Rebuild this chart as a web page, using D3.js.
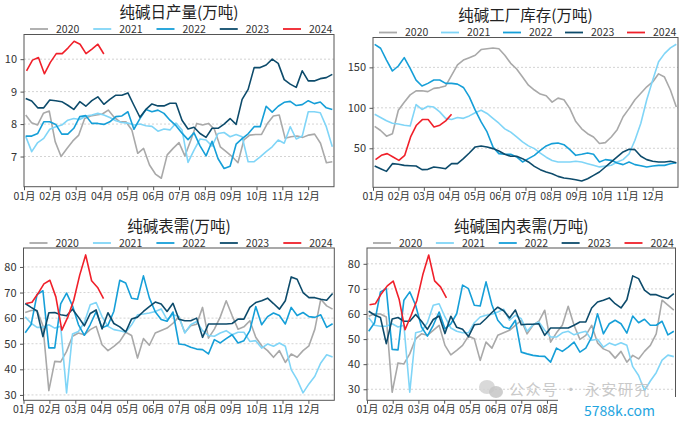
<!DOCTYPE html>
<html><head><meta charset="utf-8">
<script src="https://cdn.jsdelivr.net/npm/d3@7/dist/d3.min.js"></script>
<style>
body{margin:0;background:#fff}
svg{display:block}
text{font-family:"Noto Sans CJK SC","Noto Sans",sans-serif}
</style>
</head><body>
<svg id="chart" width="683" height="422"></svg>
<script>
// ---------- shared ----------
const years = ["2020", "2021", "2022", "2023", "2024"];
const yearColors = ["#a9a9a9", "#80d5f7", "#169fd8", "#0d4b6b", "#f0202a"];
const monthLabels = ["01月","02月","03月","04月","05月","06月","07月","08月","09月","10月","11月","12月"];
const titles = ["纯碱日产量(万吨)", "纯碱工厂库存(万吨)", "纯碱表需(万吨)", "纯碱国内表需(万吨)"];

// ---------- panel 1: 纯碱日产量 ----------
const prod2020 = [8.28,8.04,7.97,8.33,8.40,7.46,7.0,7.25,7.48,7.66,8.17,8.25,8.28,8.31,8.43,8.21,8.07,8.07,7.82,7.10,7.25,6.74,6.46,6.33,7.05,7.25,7.43,7.02,7.5,8.02,7.97,8.02,7.84,7.30,7.15,7.0,6.81,7.51,7.66,7.68,7.68,8.02,8.25,8.28,7.56,7.61,7.63,7.59,7.66,7.69,7.41,6.81,6.84];
const prod2021 = [7.62,7.15,7.43,7.56,7.84,7.92,7.97,8.12,8.17,8.14,8.25,8.28,8.33,8.28,8.2,8.1,8.05,8.03,7.97,8.0,7.95,7.93,7.78,7.85,7.82,8.03,7.82,6.82,7.2,7.54,7.51,7.32,7.71,7.74,7.61,7.68,7.61,6.84,6.84,6.99,7.15,7.30,7.51,7.41,7.92,7.54,7.63,8.38,8.38,8.35,7.92,7.30];
const prod2022 = [7.63,7.63,7.71,8.07,8.07,7.99,7.69,7.69,7.87,8.23,8.26,8.02,8.02,7.99,8.07,8.23,8.25,8.38,7.84,8.17,8.45,8.38,8.43,8.33,8.12,7.95,7.72,7.52,7.73,7.33,7.02,7.47,6.93,6.63,6.70,7.38,7.55,7.70,7.92,7.92,8.55,8.37,8.55,8.67,8.70,8.57,8.60,8.72,8.63,8.68,8.50,8.45];
const prod2023 = [8.79,8.71,8.50,8.50,8.74,8.72,8.69,8.58,8.45,8.69,8.55,8.72,8.84,8.61,8.76,8.89,8.89,8.96,8.58,8.21,8.45,8.62,8.56,8.56,8.64,8.64,8.12,7.85,7.9,7.71,7.59,7.87,7.87,8.0,8.17,7.99,8.76,9.07,9.74,9.74,9.82,10.0,9.87,9.37,9.23,9.13,9.64,9.33,9.33,9.4,9.43,9.53];
const prod2024 = [9.64,9.97,10.05,9.55,9.90,10.17,10.17,10.35,10.55,10.46,10.17,10.31,10.46,10.16];
const prodTicks = [7, 8, 9, 10];

// ---------- panel 2: 纯碱工厂库存 ----------
const inv2020 = [77,72,65,68,97,107,116,121,121,120,124,125,127,140,153,159,162,165,172,173,174,173,165,155,148,138,128,122,117,115,107,112,110,99,83,74,68,64,56,57,64,73,89,99,110,118,126,132,142,138,122,101];
const inv2021 = [92,88,84,81,80,78.5,77.5,104,98,102,101,95,87,85.5,88,87,90,94,97,93,87,81,74,70,64,58,53,49.6,44,39,35,33,33,33,34,33,31,29,27,28,29,33,36,43,60,81,110,134,157,167,174,178.5];
const inv2022 = [178.5,173.6,159,145.5,151.7,162,148.8,134.3,126.9,130.2,134.3,134.3,130.2,130.2,129.3,125.2,113.6,97.1,82.6,70.2,51.7,43.4,42.6,42.6,39.3,33.1,37.2,41.3,47.5,52.9,55.8,56.6,54.5,48.3,41.3,42.6,44.2,42.6,33.1,36,35.1,31.8,29.8,33.1,29.8,28.5,26.9,28.1,28.9,28.9,31,32.2];
const inv2023 = [28.1,24.8,21.5,31,30.2,28.9,28.5,28.1,23.6,24,26.9,26,24.8,31,31,37.2,44.2,51.7,52.9,51.7,49.6,46.7,42.6,40.1,40.1,37.2,33.1,27.7,23.6,20.7,18.6,15.3,13.2,12.4,11.2,9.5,12.4,16.5,20.7,26.9,33.1,39.3,45.5,48.8,48.3,40.1,36,33.9,33.1,33.1,33.9,32.2];
const inv2024 = [36,41.3,43.4,39.3,35.1,41.3,64,78.5,85.5,85.5,76.4,78.5,83.9,92.1];
const invTicks = [50, 100, 150];

// ---------- panel 3: 纯碱表需 ----------
const dem2020 = [62.2,63.0,63.0,57.0,31.7,43.1,42.9,47.0,52.9,54.2,53.5,55.5,56.8,49.6,47.3,49.0,50.9,54.5,53.2,44.4,52.0,49.4,54.2,55.2,56.1,58.0,60.5,54.4,57.0,57.6,64.2,52.2,55.7,60.5,66.8,61.0,55.7,56.6,59.0,52.5,49.2,47.3,44.7,47.3,42.7,46.0,44.7,47.3,49.2,55.7,67.4,64.8,63.5];
const dem2021 = [60.5,58.0,56.4,56.4,57.4,56.1,56.8,30.8,53.8,54.8,58.3,65.2,66.1,60.6,56.8,55.5,55.1,54.5,57.4,61.3,61.6,62.0,62.6,63.6,59.4,61.3,60.6,54.2,57.4,58.7,55.1,53.2,52.9,54.2,55.1,53.5,54.5,54.5,50.9,51.2,48.3,49.9,49.0,50.3,49.0,39.9,36.0,30.8,34.3,37.3,42.5,45.7,44.8];
const dem2022 = [54.3,57.5,69.2,70.7,48.4,48.4,65.6,69.8,64.8,57.5,53.3,57.5,62.5,56.2,57.2,62.7,74.8,73.7,67.8,67.4,76.5,67.9,62.5,59.5,58.8,62.4,49.9,49.6,48.6,47.9,47.7,46.0,51.6,50.3,52.0,53.5,50.3,51.2,55.1,64.5,57.4,60.6,62.0,61.0,57.7,64.2,61.0,62.2,60.6,60.3,61.3,56.4,57.8];
const dem2023 = [65.7,64.2,62.8,52.8,62.1,62.2,61.3,60.9,63.5,60.4,57.0,61.8,63.2,55.8,62.1,57.9,56.6,54.6,59.7,60.4,62.6,64.5,66.3,65.5,62.6,65.8,59.6,59.0,59.0,60.0,52.5,57.7,57.7,57.7,57.7,57.9,59.6,59.6,64.2,66.1,66.8,67.8,65.7,63.5,66.8,76.1,75.2,70.0,68.0,68.0,67.4,67.0,69.6];
const dem2024 = [65.7,66.2,69.6,73.4,74.8,68.3,55.3,60.4,67.0,76.8,84.7,74.6,72.0,67.6];
const demTicks = [30, 40, 50, 60, 70, 80];

// ---------- panel 4: 纯碱国内表需 ----------
const dom2020 = [59.1,60.1,60.0,58.8,28.8,40.5,40.1,44.1,50.1,52.1,51.5,53.5,55.5,47.5,43.7,45.5,47.5,51.2,50.1,41.5,48.8,46.4,51.5,52.5,53.5,55.5,57.5,52.1,55.5,57.1,61.5,48.8,52.5,55.5,63.1,55.5,49.9,51.5,55.5,48.5,46.1,45.1,42.4,45.1,40.8,43.5,42.1,45.1,47.5,52.1,65.5,63.5,61.5];
const dom2021 = [58.5,55.5,55.1,55.1,56.1,54.8,55.5,28.8,52.5,53.1,56.5,63.5,64.1,58.8,54.4,53.1,52.5,52.5,56.5,58.8,59.5,59.9,60.8,61.9,57.5,59.5,58.1,53.1,55.7,56.8,53.5,50.8,50.8,52.5,53.1,51.7,52.5,53.1,49.5,49.9,46.8,48.4,47.5,48.5,47.5,39.0,35.5,29.5,33.3,36.6,41.6,43.6,43.0];
const dom2022 = [53.1,56.5,68.8,70.1,45.9,45.7,65.5,68.8,63.5,54.8,51.2,55.5,60.8,54.1,56.1,60.1,71.5,70.1,63.5,63.2,72.8,63.7,57.5,54.8,54.1,57.5,44.8,44.1,43.5,43.2,43.1,40.8,46.4,45.1,46.8,48.8,44.8,46.4,50.8,60.1,52.1,56.1,57.5,56.1,52.4,59.2,56.5,57.9,55.5,55.5,57.1,51.7,53.1];
const dom2023 = [61.1,59.6,58.6,48.2,58.0,58.6,57.1,57.1,59.8,57.1,53.9,57.8,59.2,52.2,59.1,54.7,53.9,51.0,55.7,56.0,58.2,60.6,62.7,61.3,58.4,61.6,55.7,55.9,55.9,56.1,51.5,54.4,54.4,54.4,54.4,55.5,56.8,56.8,62.4,64.8,65.5,66.4,64.1,62.4,65.7,75.2,74.1,69.5,67.7,67.7,66.8,66.2,68.1];
const dom2024 = [63.7,64.1,68.1,71.2,73.1,65.9,53.7,59.3,65.4,75.6,83.5,73.2,70.8,66.4];
const domTicks = [30, 40, 50, 60, 70, 80];

// ---------- layout ----------
// shownMonths: month labels visible (panel 4's last four are covered by the source's watermark box)
const panels = [
  {title: titles[0], series: [prod2020, prod2021, prod2022, prod2023, prod2024], ticks: prodTicks,
   yDomain: [6.07, 10.76], box: {l: 24, r: 334, t: 34.5, b: 186.7}, titleY: 18, legendY: 29, shownMonths: 12},
  {title: titles[1], series: [inv2020, inv2021, inv2022, inv2023, inv2024], ticks: invTicks,
   yDomain: [1.8, 186.9], box: {l: 373, r: 678, t: 37.5, b: 187.3}, titleY: 21, legendY: 32.5, shownMonths: 12},
  {title: titles[2], series: [dem2020, dem2021, dem2022, dem2023, dem2024], ticks: demTicks,
   yDomain: [27.9, 87.4], box: {l: 23.5, r: 334.3, t: 248, b: 400.3}, titleY: 231.5, legendY: 243, shownMonths: 12},
  {title: titles[3], series: [dom2020, dom2021, dom2022, dom2023, dom2024], ticks: domTicks,
   yDomain: [25.6, 86.3], box: {l: 367, r: 675.5, t: 248, b: 400.3}, titleY: 231.5, legendY: 243, shownMonths: 8}
];

const svg = d3.select("#chart");
const frameColor = "#555";
const textColor = "#333";
const fontFam = '"Noto Sans CJK SC","Noto Sans",sans-serif';

// day-of-year position of point i in a series of length n
function dayOf(i, n) {
  return n >= 50 ? 2 + i * 361 / (n - 1) : 3 + 7 * i;
}

panels.forEach((p, pi) => {
  const {l, r, t, b} = p.box;
  const x = d3.scaleLinear().domain([0, 365]).range([l, r]);
  const y = d3.scaleLinear().domain(p.yDomain).range([b, t]);
  const g = svg.append("g");

  const clipId = "clip" + pi;
  svg.append("clipPath").attr("id", clipId)
    .append("rect").attr("x", l).attr("y", t).attr("width", r - l).attr("height", b - t);

  // grid
  g.append("g").selectAll("line").data(p.ticks).join("line")
    .attr("x1", l).attr("x2", r)
    .attr("y1", d => y(d)).attr("y2", d => y(d))
    .attr("stroke", "#c8c8c8").attr("stroke-width", 0.8).attr("stroke-dasharray", "2,2");

  // lines
  const lineGen = (n) => d3.line().x((d, i) => x(dayOf(i, n))).y(d => y(d));
  const lg = g.append("g").attr("clip-path", `url(#${clipId})`);
  p.series.forEach((s, si) => {
    lg.append("path").datum(s)
      .attr("d", lineGen(s.length))
      .attr("fill", "none")
      .attr("stroke", yearColors[si])
      .attr("stroke-width", 1.6)
      .attr("stroke-linejoin", "round");
  });

  // frame
  g.append("rect").attr("x", l).attr("y", t).attr("width", r - l).attr("height", b - t)
    .attr("fill", "none").attr("stroke", frameColor).attr("stroke-width", 1);

  // x axis
  const monthDays = d3.range(12).map(m => m * 365 / 12);
  const xAxis = d3.axisBottom(x).tickValues(monthDays)
    .tickFormat((d, i) => monthLabels[i]).tickSize(3.5).tickPadding(2);
  const xa = g.append("g").attr("transform", `translate(0,${b})`).call(xAxis);
  xa.select(".domain").remove();
  xa.selectAll("line").attr("stroke", frameColor);
  xa.selectAll("text").attr("fill", textColor).attr("font-size", 10.5).attr("font-family", fontFam);
  xa.selectAll(".tick").filter((d, i) => i >= p.shownMonths).select("text").remove();

  // y axis
  const yAxis = d3.axisLeft(y).tickValues(p.ticks).tickFormat(d3.format("d")).tickSize(3.5).tickPadding(3.5);
  const ya = g.append("g").attr("transform", `translate(${l},0)`).call(yAxis);
  ya.select(".domain").remove();
  ya.selectAll("line").attr("stroke", frameColor);
  ya.selectAll("text").attr("fill", textColor).attr("font-size", 11).attr("font-family", fontFam);

  // legend
  const step = ((r - l) - 6 - 48 - 3) / 4;
  const leg = g.append("g");
  years.forEach((yr, si) => {
    const x0 = l + 6 + si * step;
    leg.append("line").attr("x1", x0).attr("x2", x0 + 18)
      .attr("y1", p.legendY).attr("y2", p.legendY)
      .attr("stroke", yearColors[si]).attr("stroke-width", 1.8);
    leg.append("text").attr("x", x0 + 26).attr("y", p.legendY).attr("dy", "0.36em")
      .attr("font-size", 10.5).attr("fill", textColor)
      .attr("font-family", '"Liberation Sans","Noto Sans",sans-serif').text(yr);
  });

  // title
  g.append("text").attr("x", (l + r) / 2).attr("y", p.titleY)
    .attr("text-anchor", "middle").attr("font-size", 15.5).attr("fill", "#222").text(p.title);
});

// watermark overlay seen in the source image
const wm = svg.append("g");
wm.append("ellipse").attr("cx", 487).attr("cy", 387).attr("rx", 8).attr("ry", 7).attr("fill", "#d2d2d2").attr("opacity", 0.85);
wm.append("ellipse").attr("cx", 496).attr("cy", 392).attr("rx", 7).attr("ry", 6).attr("fill", "#c6c6c6").attr("opacity", 0.85);
wm.append("text").attr("x", 509).attr("y", 394.5).attr("font-size", 15).attr("fill", "#c4c4c4")
  .attr("opacity", 0.9).attr("letter-spacing", 1.5).text("公众号 · 永安研究");
wm.append("rect").attr("x", 558).attr("y", 397).attr("width", 125).attr("height", 25).attr("fill", "#fff");
wm.append("text").attr("x", 584).attr("y", 415.5).attr("font-size", 14).attr("fill", "#1ea5e0")
  .attr("font-family", '"Liberation Sans","DejaVu Sans",sans-serif').text("5788k.com");
</script>
</body></html>
